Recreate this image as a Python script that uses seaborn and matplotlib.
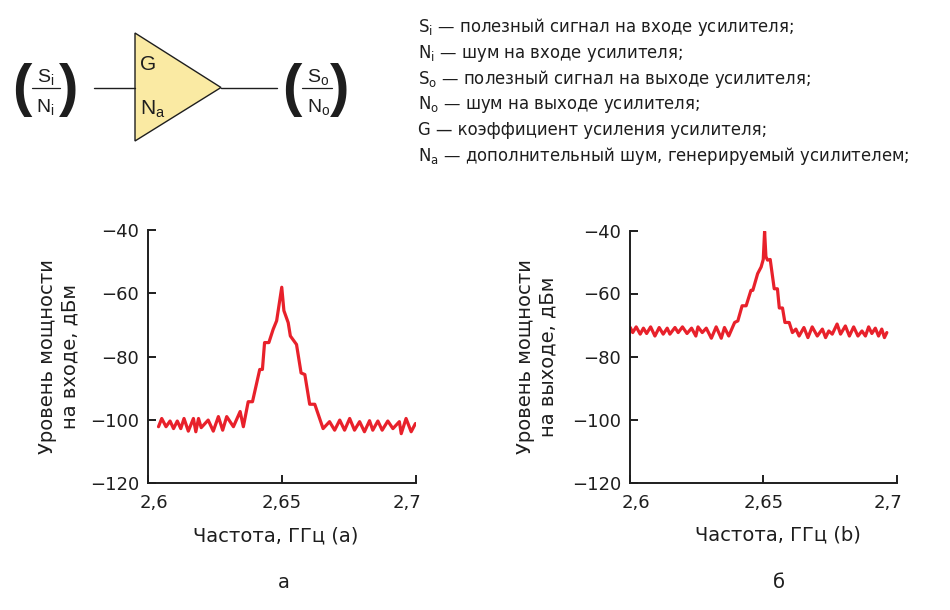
import numpy as np
import pandas as pd
import matplotlib
matplotlib.use("Agg")
import matplotlib.pyplot as plt
import seaborn as sns
from matplotlib.patches import Polygon
from matplotlib.transforms import ScaledTranslation

# ---------------- data ----------------
freq_in = [2.6041, 2.6053, 2.6069, 2.6084, 2.6097, 2.6111, 2.6124, 2.6136, 2.6152, 2.6171,
           2.6180, 2.6190, 2.6200, 2.6226, 2.6245, 2.6264, 2.6280, 2.6295, 2.6320, 2.6345,
           2.6357, 2.6375, 2.6391, 2.6418, 2.6428, 2.6436, 2.6452, 2.6468, 2.6481, 2.6500,
           2.6508, 2.6524, 2.6532, 2.6555, 2.6572, 2.6586, 2.6604, 2.6623, 2.6654, 2.6678,
           2.6697, 2.6716, 2.6734, 2.6753, 2.6771, 2.6790, 2.6808, 2.6827, 2.6839, 2.6858,
           2.6874, 2.6895, 2.6914, 2.6938, 2.6945, 2.6963, 2.6982, 2.6998]
power_in = [-102.2, -99.6, -102.2, -100.4, -102.8, -100.4, -102.8, -99.6, -103.6, -99.6,
            -103.8, -99.6, -102.5, -100.1, -103.6, -99.0, -103.3, -99.0, -102.2, -97.4,
            -102.2, -94.3, -94.3, -84.1, -84.1, -75.6, -75.6, -71.4, -68.7, -58.1,
            -65.5, -69.3, -73.5, -76.2, -85.2, -85.7, -95.1, -95.1, -102.8, -100.6,
            -103.3, -100.1, -103.3, -99.6, -103.3, -100.6, -103.8, -100.3, -103.3, -100.4,
            -103.3, -100.4, -102.8, -100.6, -104.4, -99.6, -103.8, -101.2]

freq_out = [2.6003, 2.6012, 2.6025, 2.6040, 2.6052, 2.6064, 2.6079, 2.6095, 2.6111, 2.6126,
            2.6141, 2.6151, 2.6170, 2.6182, 2.6198, 2.6215, 2.6232, 2.6248, 2.6256, 2.6272,
            2.6287, 2.6306, 2.6324, 2.6343, 2.6355, 2.6371, 2.6393, 2.6405, 2.6421, 2.6436,
            2.6454, 2.6461, 2.6479, 2.6492, 2.6500, 2.6505, 2.6510, 2.6516, 2.6526, 2.6541,
            2.6553, 2.6560, 2.6572, 2.6581, 2.6597, 2.6609, 2.6622, 2.6634, 2.6652, 2.6667,
            2.6683, 2.6702, 2.6721, 2.6733, 2.6745, 2.6758, 2.6776, 2.6789, 2.6807, 2.6822,
            2.6838, 2.6854, 2.6869, 2.6882, 2.6894, 2.6906, 2.6919, 2.6931, 2.6943, 2.6953,
            2.6962]
power_out = [-70.8, -72.4, -70.6, -72.9, -71.0, -72.7, -70.6, -73.5, -70.8, -72.9,
             -71.0, -72.9, -70.8, -72.4, -70.6, -72.7, -71.0, -73.5, -70.6, -72.4,
             -71.0, -74.2, -70.6, -74.2, -70.8, -73.5, -69.2, -68.7, -63.9, -63.9,
             -59.0, -59.0, -53.7, -51.6, -49.2, -40.3, -48.3, -49.4, -49.2, -58.5,
             -58.5, -64.6, -64.6, -69.2, -69.2, -72.4, -71.3, -73.5, -70.8, -74.0,
             -70.6, -73.5, -71.3, -74.0, -71.9, -72.9, -69.7, -72.9, -70.3, -73.5,
             -70.6, -73.5, -71.9, -73.5, -70.6, -72.7, -71.0, -73.5, -71.3, -74.0,
             -72.4]

x_ticks = [2.6, 2.65, 2.7]
x_tick_labels = ["2,6", "2,65", "2,7"]
y_ticks = [-120, -100, -80, -60, -40]

x_label_in = "Частота, ГГц (а)"
x_label_out = "Частота, ГГц (b)"
y_label_in = "Уровень мощности\nна входе, дБм"
y_label_out = "Уровень мощности\nна выходе, дБм"
panel_in = "а"
panel_out = "б"

legend_lines = [
    r"$\mathregular{S_i}$ — полезный сигнал на входе усилителя;",
    r"$\mathregular{N_i}$ — шум на входе усилителя;",
    r"$\mathregular{S_o}$ — полезный сигнал на выходе усилителя;",
    r"$\mathregular{N_o}$ — шум на выходе усилителя;",
    r"G — коэффициент усиления усилителя;",
    r"$\mathregular{N_a}$ — дополнительный шум, генерируемый усилителем;",
]

# ---------------- style ----------------
sns.set_theme(style="ticks")
plt.rcParams['font.family'] = ['DejaVu Sans']
plt.rcParams['axes.unicode_minus'] = True

RED = "#E8212B"
INK = "#1e1e1e"
W, H = 950, 610

fig = plt.figure(figsize=(9.5, 6.1), dpi=100)
fig.patch.set_facecolor("white")

bg = fig.add_axes([0, 0, 1, 1])
bg.set_xlim(0, W)
bg.set_ylim(H, 0)
bg.axis("off")

# ---------------- amplifier diagram ----------------
DIA = ['Liberation Sans', 'DejaVu Sans']
tri = Polygon([(135, 33), (135, 141), (221, 87.5)], closed=True,
              facecolor="#FAEAA3", edgecolor=INK, linewidth=1.0)
bg.add_patch(tri)
bg.plot([94, 135], [87.5, 87.5], color=INK, lw=1.0)
bg.plot([221, 277], [87.5, 87.5], color=INK, lw=1.0)
bg.text(140, 70, "G", family=DIA, fontsize=15, color=INK, va="baseline", ha="left")
bg.text(140, 115, r"$\mathregular{N_a}$", family=DIA, fontsize=15, color=INK,
        va="baseline", ha="left")

# input fraction
bg.text(45.5, 82, r"$\mathregular{S_i}$", family=DIA, fontsize=14, color=INK,
        va="baseline", ha="center")
bg.text(45.5, 112, r"$\mathregular{N_i}$", family=DIA, fontsize=14, color=INK,
        va="baseline", ha="center")
bg.plot([32, 60], [87.7, 87.7], color=INK, lw=0.9)
bg.text(22, 90, "(", family=DIA, fontsize=42, fontweight="bold", color=INK,
        ha="center", va="center")
bg.text(69, 90, ")", family=DIA, fontsize=42, fontweight="bold", color=INK,
        ha="center", va="center")

# output fraction
bg.text(318.5, 82, r"$\mathregular{S_o}$", family=DIA, fontsize=14, color=INK,
        va="baseline", ha="center")
bg.text(318.5, 112, r"$\mathregular{N_o}$", family=DIA, fontsize=14, color=INK,
        va="baseline", ha="center")
bg.plot([302, 332], [87.7, 87.7], color=INK, lw=0.9)
bg.text(292, 90, "(", family=DIA, fontsize=42, fontweight="bold", color=INK,
        ha="center", va="center")
bg.text(340, 90, ")", family=DIA, fontsize=42, fontweight="bold", color=INK,
        ha="center", va="center")

# legend text
for i, line in enumerate(legend_lines):
    bg.text(418, 32 + i * 25.8, line, fontsize=11.9, color=INK, va="baseline", ha="left")

# panel letters
bg.text(284, 583, panel_in, fontsize=14, color=INK, ha="center", va="center")
bg.text(779, 582, panel_out, fontsize=14, color=INK, ha="center", va="center")


# ---------------- charts ----------------
def px_axes(x0, x1, ytop, ybot):
    return fig.add_axes([x0 / W, 1 - ybot / H, (x1 - x0) / W, (ybot - ytop) / H])


def draw(ax, freqs, powers, xlabel, ylabel, xl_pos, yl_x):
    df = pd.DataFrame({"freq": freqs, "power": powers})
    sns.lineplot(data=df, x="freq", y="power", ax=ax, color=RED, linewidth=2.3,
                 estimator=None, sort=False)
    ax.set_xlim(2.6, 2.7)
    ax.set_ylim(-120, -40)
    ax.set_facecolor("none")
    ax.set_xticks(x_ticks, x_tick_labels)
    ax.set_yticks(y_ticks)
    for s in ["top", "right"]:
        ax.spines[s].set_visible(False)
    for s in ["left", "bottom"]:
        ax.spines[s].set_linewidth(1.4)
        ax.spines[s].set_color(INK)
    ax.tick_params(direction="in", length=6, width=1.4, labelsize=13,
                   color=INK, labelcolor=INK)
    ax.tick_params(axis="x", pad=8)
    ax.tick_params(axis="y", pad=6)
    labs = ax.get_xticklabels()
    labs[0].set_transform(labs[0].get_transform() +
                          ScaledTranslation(6 / 100, 0, fig.dpi_scale_trans))
    labs[-1].set_transform(labs[-1].get_transform() +
                           ScaledTranslation(-9 / 100, 0, fig.dpi_scale_trans))
    ax.set_xlabel(xlabel, fontsize=14, color=INK, va="center")
    ax.xaxis.set_label_coords(*xl_pos)
    ax.set_ylabel(ylabel, fontsize=14, color=INK, va="center", ha="center",
                  linespacing=1.2, multialignment="center")
    ax.yaxis.set_label_coords(yl_x, 0.5)
    ax.grid(False)


ax1 = px_axes(147.5, 416, 230, 483)
draw(ax1, freq_in, power_in, x_label_in, y_label_in,
     ((276 - 147.5) / 268.5, (483 - 536) / 253), (58.5 - 147.5) / 268.5)

ax2 = px_axes(629.5, 897, 230.5, 482.5)
draw(ax2, freq_out, power_out, x_label_out, y_label_out,
     ((777.5 - 629.5) / 267.5, (482.5 - 535) / 252), (536.5 - 629.5) / 267.5)

fig.savefig("out.png", dpi=100)
